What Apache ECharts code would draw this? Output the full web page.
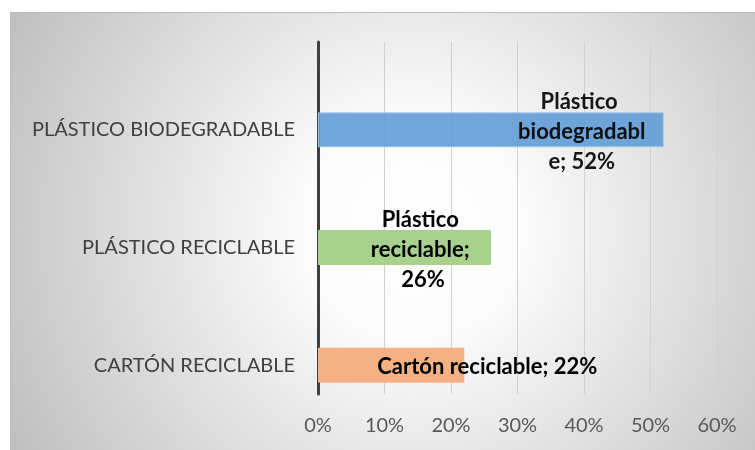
<!DOCTYPE html>
<html>
<head>
<meta charset="utf-8">
<script src="https://cdn.jsdelivr.net/npm/echarts@6/dist/echarts.min.js"></script>
<style>
html,body{margin:0;padding:0;background:#fff;}
#c{width:755px;height:450px;}
</style>
</head>
<body>
<div id="c"></div>
<script>
// Data (bottom to top, as in the chart)
const categories = ['Cartón reciclable', 'Plástico reciclable', 'Plástico biodegradable'];
const values = [22, 26, 52];
const xTicks = [0, 10, 20, 30, 40, 50, 60];

const colors = ['#f4b183', '#a9d18e', '#619cd6'];
const borders = ['#f4b183', '#a9d18e', '#a9c9ea'];
const opacities = [1, 1, 0.9];
const labelCfg = [
  { position: 'right', distance: 23, align: 'center' },
  { position: 'insideRight', distance: 68, align: 'center', width: 110 },
  { position: 'insideRight', distance: 82, align: 'center', width: 128 }
];

const xMin = xTicks[0], xMax = xTicks[xTicks.length - 1], xInt = xTicks[1] - xTicks[0];

const chart = echarts.init(document.getElementById('c'), null, { renderer: 'canvas' });

chart.setOption({
  backgroundColor: '#ffffff',
  animation: false,
  graphic: [{
    type: 'rect',
    left: 10, top: 12, z: -10,
    shape: { width: 760, height: 450 },
    style: {
      fill: {
        type: 'radial', x: 0.53, y: 0.48, r: 1,
        colorStops: [{ offset: 0, color: '#ffffff' }, { offset: 0.25, color: '#fbfbfb' }, { offset: 1, color: '#c0c0c0' }]
      },
      stroke: '#bcbcbc', lineWidth: 1
    }
  }],
  grid: [
    { left: 318, right: 38, top: 42, bottom: 56 },
    { left: 318, right: 38, top: 71, bottom: 26 }
  ],
  xAxis: [
    {
      type: 'value', gridIndex: 0,
      min: xMin, max: xMax, interval: xInt,
      axisLine: { show: false },
      axisTick: { show: false },
      splitLine: { show: true, lineStyle: { color: '#d0d0d0', width: 1 } },
      axisLabel: { formatter: '{value}%', color: '#595959', fontFamily: 'Lato', fontSize: 20, margin: 22 }
    },
    {
      type: 'value', gridIndex: 1,
      min: xMin, max: xMax, interval: xInt,
      axisLine: { show: false }, axisTick: { show: false },
      splitLine: { show: false }, axisLabel: { show: false }
    }
  ],
  yAxis: [
    {
      type: 'value', gridIndex: 0, min: 0, max: 1,
      axisLine: { show: true, lineStyle: { color: '#404040', width: 3 } },
      axisTick: { show: false }, splitLine: { show: false }, axisLabel: { show: false }
    },
    {
      type: 'category', gridIndex: 1,
      data: categories,
      axisLine: { show: false },
      axisTick: { show: false },
      axisLabel: {
        formatter: v => v.toUpperCase(),
        color: '#404040', fontFamily: 'Lato', fontSize: 20, margin: 23
      }
    }
  ],
  series: [
    {
      type: 'bar',
      xAxisIndex: 1, yAxisIndex: 1,
      barWidth: 35,
      z: 3,
      data: values.map((v, i) => ({
        value: v,
        itemStyle: { color: colors[i], borderColor: borders[i], borderWidth: 1, opacity: opacities[i] },
        label: Object.assign({
          show: true,
          formatter: p => p.name + '; ' + p.value + '%',
          color: '#000', fontFamily: 'Lato', fontWeight: 'bold', fontSize: 22,
          lineHeight: 30, overflow: 'break', offset: [0, 2]
        }, labelCfg[i])
      }))
    }
  ]
});
</script>
</body>
</html>
